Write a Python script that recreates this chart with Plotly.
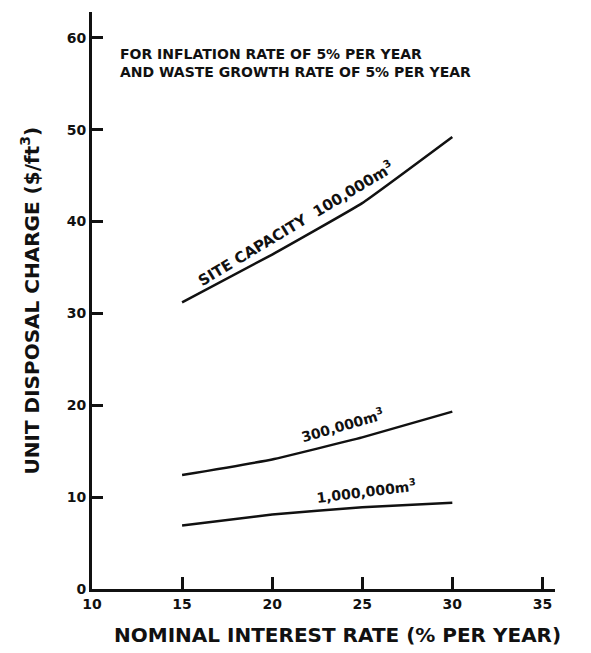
import plotly.graph_objects as go

# Data
interest_rate = [15, 20, 25, 30]
cap_100k = [31.2, 36.4, 42.0, 49.2]
cap_300k = [12.4, 14.1, 16.5, 19.3]
cap_1m = [6.9, 8.1, 8.9, 9.4]

x_ticks = [10, 15, 20, 25, 30, 35]
y_ticks = [0, 10, 20, 30, 40, 50, 60]

FONT = "DejaVu Sans"
INK = "#111111"

fig = go.Figure()
for ys in (cap_100k, cap_300k, cap_1m):
    fig.add_trace(go.Scatter(
        x=interest_rate, y=ys, mode="lines",
        line=dict(color=INK, width=2.5, shape="spline", smoothing=0.3),
        showlegend=False, hoverinfo="skip",
    ))

annots = [
    dict(x=21.3, y=39.8, text="SITE CAPACITY  100,000m<sup>3</sup>", textangle=-31, size=15),
    dict(x=23.9, y=17.8, text="300,000m<sup>3</sup>", textangle=-16, size=14),
    dict(x=25.2, y=10.7, text="1,000,000m<sup>3</sup>", textangle=-7, size=14),
]
for a in annots:
    fig.add_annotation(
        x=a["x"], y=a["y"], xref="x", yref="y", text=a["text"],
        textangle=a["textangle"], showarrow=False,
        font=dict(family=FONT, size=a["size"], color=INK, weight="bold"),
    )

fig.add_annotation(
    x=11.44, y=57.2, xref="x", yref="y", xanchor="left", yanchor="middle",
    align="left", showarrow=False,
    text="FOR INFLATION RATE OF 5% PER YEAR<br>AND WASTE GROWTH RATE OF 5% PER YEAR",
    font=dict(family=FONT, size=14, color=INK, weight="bold"),
)

# axis titles
fig.add_annotation(
    x=0.531, y=-0.080, xref="paper", yref="paper", xanchor="center", yanchor="middle",
    showarrow=False, text="NOMINAL INTEREST RATE (% PER YEAR)",
    font=dict(family=FONT, size=20, color=INK, weight="bold"),
)
fig.add_annotation(
    x=-0.134, y=0.50, xref="paper", yref="paper", xanchor="center", yanchor="middle",
    showarrow=False, textangle=-90, text="UNIT DISPOSAL CHARGE ($/ft<sup>3</sup>)",
    font=dict(family=FONT, size=20, color=INK, weight="bold"),
)

# page body adds an 8px offset; compensate so the plot area lands where the reference has it
fig.update_layout(
    width=583, height=645,
    margin=dict(l=84, r=36, t=4, b=64),
    paper_bgcolor="white", plot_bgcolor="white",
    font=dict(family=FONT, color=INK, weight="bold"),
)
fig.update_xaxes(
    range=[10, 35.7], tickvals=x_ticks, ticktext=[str(v) for v in x_ticks],
    showline=True, linecolor=INK, linewidth=3, showgrid=False, zeroline=False,
    ticks="inside", ticklen=12, tickwidth=2.5, tickcolor=INK, automargin=False,
    tickfont=dict(family=FONT, size=14, color=INK, weight="bold"),
)
fig.update_yaxes(
    range=[0, 62.8], tickvals=y_ticks, ticktext=[str(v) for v in y_ticks],
    showline=True, linecolor=INK, linewidth=3, showgrid=False, zeroline=False,
    ticks="inside", ticklen=11, tickwidth=2.5, tickcolor=INK, automargin=False,
    tickfont=dict(family=FONT, size=14, color=INK, weight="bold"),
)

fig.write_html("out.html")
